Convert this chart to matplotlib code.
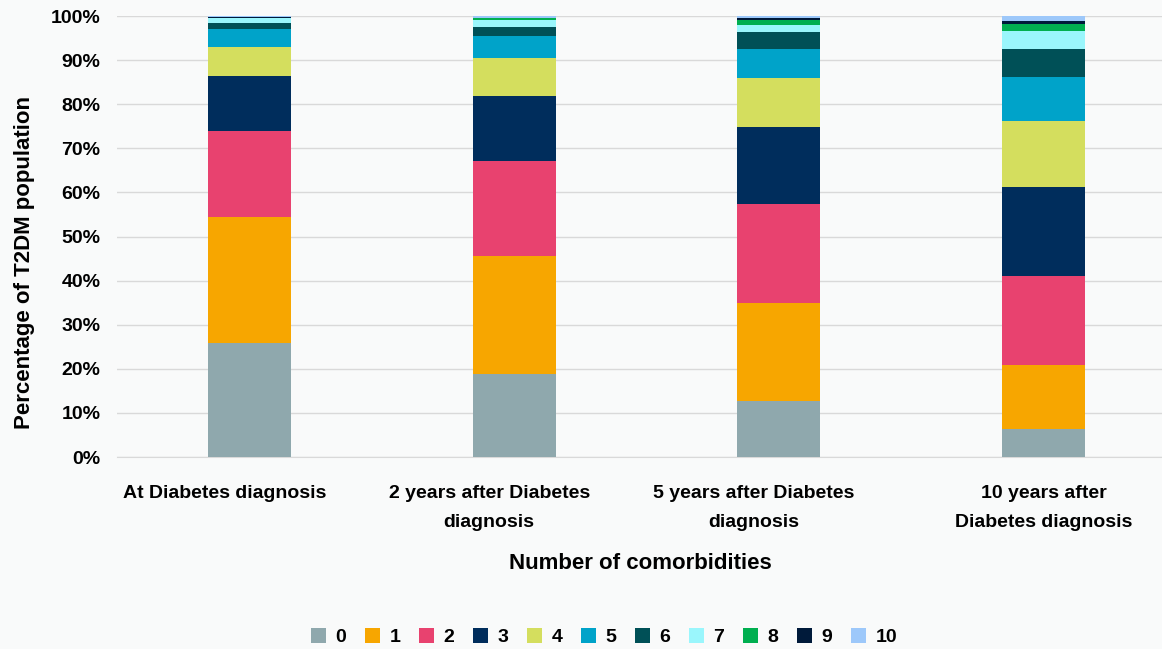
import matplotlib
matplotlib.use('Agg')
import matplotlib.pyplot as plt
import matplotlib.transforms as mtransforms
from matplotlib.patches import Patch
import numpy as np

plt.rcParams['font.family'] = ['Liberation Sans', 'DejaVu Sans']

categories = ['At Diabetes diagnosis', '2 years after Diabetes\ndiagnosis',
              '5 years after Diabetes\ndiagnosis', '10 years after\nDiabetes diagnosis']
comorbidities = ['0', '1', '2', '3', '4', '5', '6', '7', '8', '9', '10']

# percentage of population per number of comorbidities, one list per time point
at_diagnosis = [25.9, 28.5, 19.5, 12.5, 6.6, 4.1, 1.4, 1.0, 0.1, 0.2, 0.2]
after_2y = [18.8, 26.8, 21.5, 14.8, 8.6, 5.0, 2.0, 1.6, 0.4, 0.0, 0.5]
after_5y = [12.7, 22.2, 22.5, 17.4, 11.1, 6.6, 3.9, 1.6, 1.1, 0.4, 0.5]
after_10y = [6.3, 14.6, 20.1, 20.2, 15.0, 10.0, 6.3, 4.1, 1.6, 0.7, 1.1]

colors = ['#8FA8AD', '#F7A600', '#E8426F', '#002D5C', '#D4DE5E', '#00A3C9',
          '#005057', '#9AF6FC', '#00AF50', '#001A3A', '#9DC8FA']

data = np.array([at_diagnosis, after_2y, after_5y, after_10y]) / 100.0
data = data / data.sum(axis=1, keepdims=True)

fig = plt.figure(figsize=(11.62, 6.49), dpi=100)
bg = '#F9FAFA'
fig.patch.set_facecolor(bg)
ax = fig.add_axes([0.1007, 0.2958, 0.9, 0.6795])
ax.set_facecolor(bg)

x = np.arange(len(categories))
bottom = np.zeros(len(categories))
for i, c in enumerate(comorbidities):
    ax.bar(x, data[:, i], bottom=bottom, width=0.313, color=colors[i], zorder=3)
    bottom += data[:, i]

ax.set_xlim(-0.5, 3.45)
ax.set_ylim(0, 1.0)
ax.set_yticks(np.arange(0, 1.01, 0.1))
ax.set_yticklabels([f'{int(round(v * 100))}%' for v in np.arange(0, 1.01, 0.1)],
                   fontsize=14, fontweight='bold')
ax.set_xticks(x)
ax.set_xticklabels(categories, fontsize=14, fontweight='bold', linespacing=1.9)
ax.tick_params(axis='y', length=0, pad=12)
ax.tick_params(axis='x', length=0, pad=20)
# the first three labels sit a bit left of their bars in the original
for lbl in ax.get_xticklabels()[:3]:
    lbl.set_transform(lbl.get_transform() + mtransforms.ScaledTranslation(-25 / 100, 0, fig.dpi_scale_trans))
ax.grid(axis='y', color='#D9D9D9', linewidth=1, zorder=0)
for s in ['top', 'right', 'left']:
    ax.spines[s].set_visible(False)
ax.spines['bottom'].set_color('#D9D9D9')

ax.set_ylabel('Percentage of T2DM population', fontsize=16, fontweight='bold')
ax.yaxis.set_label_coords(-0.078, 0.442)
ax.set_xlabel('Number of comorbidities', fontsize=16, fontweight='bold', labelpad=16)

handles = [Patch(facecolor=colors[i], label=c) for i, c in enumerate(comorbidities)]
fig.legend(handles=handles, loc='center', bbox_to_anchor=(0.52, 0.018), ncol=11,
           frameon=False, prop={'size': 14, 'weight': 'bold'},
           handlelength=0.75, handleheight=0.75, handletextpad=0.5, columnspacing=0.97)

fig.savefig('out.png', dpi=100, facecolor=bg)
